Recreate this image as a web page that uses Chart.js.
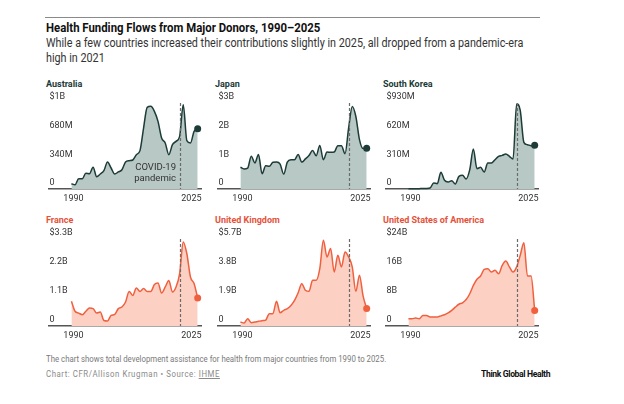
<!DOCTYPE html>
<html>
<head>
<meta charset="utf-8">
<script src="https://cdn.jsdelivr.net/npm/chart.js@4.4.1/dist/chart.umd.min.js"></script>
<style>
  html, body { margin: 0; padding: 0; background: #fff; }
  body { width: 624px; height: 404px; position: relative; overflow: hidden; font-family: Roboto, "Liberation Sans", sans-serif; }
  .t { position: absolute; white-space: nowrap; transform-origin: 0 50%; line-height: 14px; }
  canvas { position: absolute; }
</style>
</head>
<body>
<div style="position:absolute;left:45px;top:17px;width:495px;height:1px;background:#8a8a8a"></div>
<span class="t" data-w="274" style="left:46px;top:21px;font-weight:700;font-size:13px;color:#111">Health Funding Flows from Major Donors, 1990–2025</span>
<span class="t" id="sub1" data-w="477" style="left:46px;top:36px;font-size:12px;color:#333">While a few countries increased their contributions slightly in 2025, all dropped from a pandemic-era</span>
<span class="t" data-ref="sub1" style="left:46px;top:51px;font-size:12px;color:#333">high in 2021</span>

<span class="t" data-w="340" style="left:46px;top:352px;font-size:8.5px;color:#7a7a7a">The chart shows total development assistance for health from major countries from 1990 to 2025.</span>
<span class="t" data-w="174" style="left:46px;top:367px;font-size:8.5px;color:#8a8a8a;letter-spacing:0.6px">Chart: CFR/Allison Krugman • Source: <span style="text-decoration:underline">IHME</span></span>
<span class="t" data-w="69" style="left:481px;top:367px;font-size:9px;font-weight:700;color:#111;letter-spacing:-0.4px">Think Global Health</span>

<script>
// values
const years = [1990, 1991, 1992, 1993, 1994, 1995, 1996, 1997, 1998, 1999,
  2000, 2001, 2002, 2003, 2004, 2005, 2006, 2007, 2008, 2009,
  2010, 2011, 2012, 2013, 2014, 2015, 2016, 2017, 2018, 2019,
  2020, 2021, 2022, 2023, 2024, 2025];

const countries = ['Australia', 'Japan', 'South Korea', 'France', 'United Kingdom', 'United States of America'];

// millions of US$
const australia = [63, 51, 122, 122, 186, 182, 257, 146, 178, 217, 320, 249, 178, 202, 229, 320, 336, 344, 407, 455,
  723, 968, 980, 921, 802, 605, 545, 407, 526, 565, 625, 1000, 573, 545, 684, 715];
// billions
const japan = [0.76, 0.70, 0.73, 1.14, 0.91, 1.20, 0.53, 0.81, 0.79, 0.93, 0.94, 0.87, 0.52, 0.94, 1.02, 1.02, 1.20, 0.94, 1.05, 1.17,
  1.34, 1.16, 1.52, 1.02, 1.29, 1.28, 1.29, 1.51, 1.51, 1.23, 2.13, 2.88, 2.53, 1.72, 1.41, 1.42];
// millions
const southKorea = [2, 2, 3, 4, 5, 6, 11, 65, 58, 180, 94, 76, 90, 54, 137, 148, 108, 209, 433, 220,
  234, 184, 281, 281, 317, 353, 364, 379, 353, 324, 919, 851, 505, 479, 469, 472];
// billions
const france = [0.94, 0.56, 0.49, 0.43, 0.56, 0.68, 0.66, 0.49, 0.53, 0.21, 0.19, 0.40, 0.44, 0.66, 0.72, 0.91, 1.31, 1.16, 1.44, 1.31,
  1.42, 1.31, 1.31, 1.57, 1.63, 1.25, 1.48, 1.73, 1.29, 1.48, 1.99, 3.19, 2.74, 1.86, 1.61, 1.06];
const unitedKingdom = [0.26, 0.20, 0.48, 0.22, 0.26, 0.31, 0.35, 0.39, 0.81, 0.81, 1.62, 0.87, 1.03, 1.14, 1.35, 1.68, 2.18, 2.77, 2.34, 2.27,
  2.99, 2.99, 3.76, 5.61, 4.52, 5.07, 3.54, 4.63, 3.87, 4.85, 4.52, 3.87, 2.27, 3.32, 1.97, 1.14];
const unitedStates = [2.0, 2.0, 2.2, 2.0, 2.9, 2.9, 2.5, 2.5, 2.5, 2.8, 3.1, 3.6, 4.3, 5.2, 6.0, 6.4, 7.3, 8.9, 11.2, 12.9,
  13.8, 15.6, 15.8, 14.9, 15.4, 14.4, 16.7, 17.9, 16.3, 14.9, 16.3, 19.5, 23.0, 13.8, 13.8, 4.3];

const series = [australia, japan, southKorea, france, unitedKingdom, unitedStates];

const tickValues = [
  [0, 340, 680, 1020],
  [0, 1, 2, 3],
  [0, 310, 620, 930],
  [0, 1.1, 2.2, 3.3],
  [0, 1.9, 3.8, 5.7],
  [0, 8, 16, 24]
];
const tickLabels = [
  ['0', '340M', '680M', '$1B'],
  ['0', '1B', '2B', '$3B'],
  ['0', '310M', '620M', '$930M'],
  ['0', '1.1B', '2.2B', '$3.3B'],
  ['0', '1.9B', '3.8B', '$5.7B'],
  ['0', '8B', '16B', '$24B']
];
const xLabels = ['1990', '2025'];
const pandemicYear = 2020;

// layout
const colLeft = [45, 214, 382];
const rowTop = [103, 239];
const rowH = [86, 87];
const panelW = 160;
const padTop = 20, padBottom = 16;

const teal = { line: '#1d3b37', fill: '#b7c8c5', label: '#1b3a36' };
const coral = { line: '#f0603f', fill: '#fdd0c4', label: '#e4523b' };

Chart.defaults.font.family = 'Roboto, "Liberation Sans", sans-serif';

const extras = {
  id: 'extras',
  afterDatasetsDraw(chart, args, opts) {
    const { ctx, chartArea } = chart;
    const x = chart.scales.x;
    const px = Math.round(x.getPixelForValue(pandemicYear)) + 0.5;
    ctx.save();
    ctx.strokeStyle = '#6b6b6b';
    ctx.lineWidth = 1.2;
    ctx.setLineDash([3, 2]);
    ctx.beginPath();
    ctx.moveTo(px, chartArea.top);
    ctx.lineTo(px, chartArea.bottom);
    ctx.stroke();
    ctx.setLineDash([]);

    ctx.fillStyle = '#333';
    ctx.font = '9px Roboto, "Liberation Sans", sans-serif';
    ctx.textBaseline = 'middle';
    ctx.textAlign = 'center';
    ctx.fillText(xLabels[0], x.getPixelForValue(+xLabels[0]) + 2, chartArea.bottom + 9.5);
    ctx.textAlign = 'right';
    ctx.fillText(xLabels[1], chartArea.right, chartArea.bottom + 9.5);

    if (opts.note) {
      ctx.font = '9.5px Roboto, "Liberation Sans", sans-serif';
      ctx.fillText('COVID-19', px - 4.5, chartArea.bottom - 21);
      ctx.fillText('pandemic', px - 4.5, chartArea.bottom - 10);
    }
    ctx.restore();
  }
};

countries.forEach((name, i) => {
  const r = Math.floor(i / 3), c = i % 3;
  const pal = r === 0 ? teal : coral;

  const lab = document.createElement('span');
  lab.className = 't';
  lab.textContent = name;
  lab.style.cssText = `left:${colLeft[c] + 1}px;top:${rowTop[r] - 26}px;font-size:9px;font-weight:700;color:${pal.label}`;
  document.body.appendChild(lab);

  const cv = document.createElement('canvas');
  cv.width = panelW;
  cv.height = rowH[r] + padTop + padBottom;
  cv.style.left = colLeft[c] + 'px';
  cv.style.top = (rowTop[r] - padTop) + 'px';
  document.body.appendChild(cv);

  const vals = series[i];
  const last = vals.length - 1;
  new Chart(cv, {
    type: 'line',
    data: {
      datasets: [{
        data: years.map((y, k) => ({ x: y, y: vals[k] })),
        borderColor: pal.line,
        backgroundColor: pal.fill,
        borderWidth: 1.5,
        fill: 'origin',
        cubicInterpolationMode: 'monotone',
        pointRadius: ctx => ctx.dataIndex === last ? 3.5 : 0,
        pointBackgroundColor: pal.line,
        pointBorderWidth: 0,
        pointHoverRadius: 0,
        clip: false
      }]
    },
    options: {
      responsive: false,
      animation: false,
      events: [],
      layout: { padding: { top: padTop, bottom: padBottom, left: 0, right: 0 } },
      scales: {
        x: {
          type: 'linear',
          min: 1983.64,
          max: 2026.06,
          grid: { display: false, drawTicks: false },
          ticks: { display: false },
          border: { display: true, color: '#555', width: 1.5 }
        },
        y: {
          min: 0,
          max: tickValues[i][3],
          afterBuildTicks: s => { s.ticks = tickValues[i].map(v => ({ value: v })); },
          afterFit: s => { s.width = 0; },
          grid: { display: false, drawTicks: false },
          border: { display: false },
          ticks: {
            mirror: true,
            padding: 1,
            labelOffset: -6,
            color: '#333',
            font: { size: 9 },
            callback: (v, k) => tickLabels[i][k]
          }
        }
      },
      plugins: {
        legend: { display: false },
        tooltip: { enabled: false },
        extras: { note: i === 0 }
      }
    },
    plugins: [extras]
  });
});

function fit() {
  document.querySelectorAll('.t[data-w]').forEach(el => {
    el.style.transform = `scaleX(${(+el.dataset.w) / el.offsetWidth})`;
  });
  document.querySelectorAll('.t[data-ref]').forEach(el => {
    el.style.transform = document.getElementById(el.dataset.ref).style.transform;
  });
}
fit();
if (document.fonts) document.fonts.ready.then(fit);
</script>
</body>
</html>
